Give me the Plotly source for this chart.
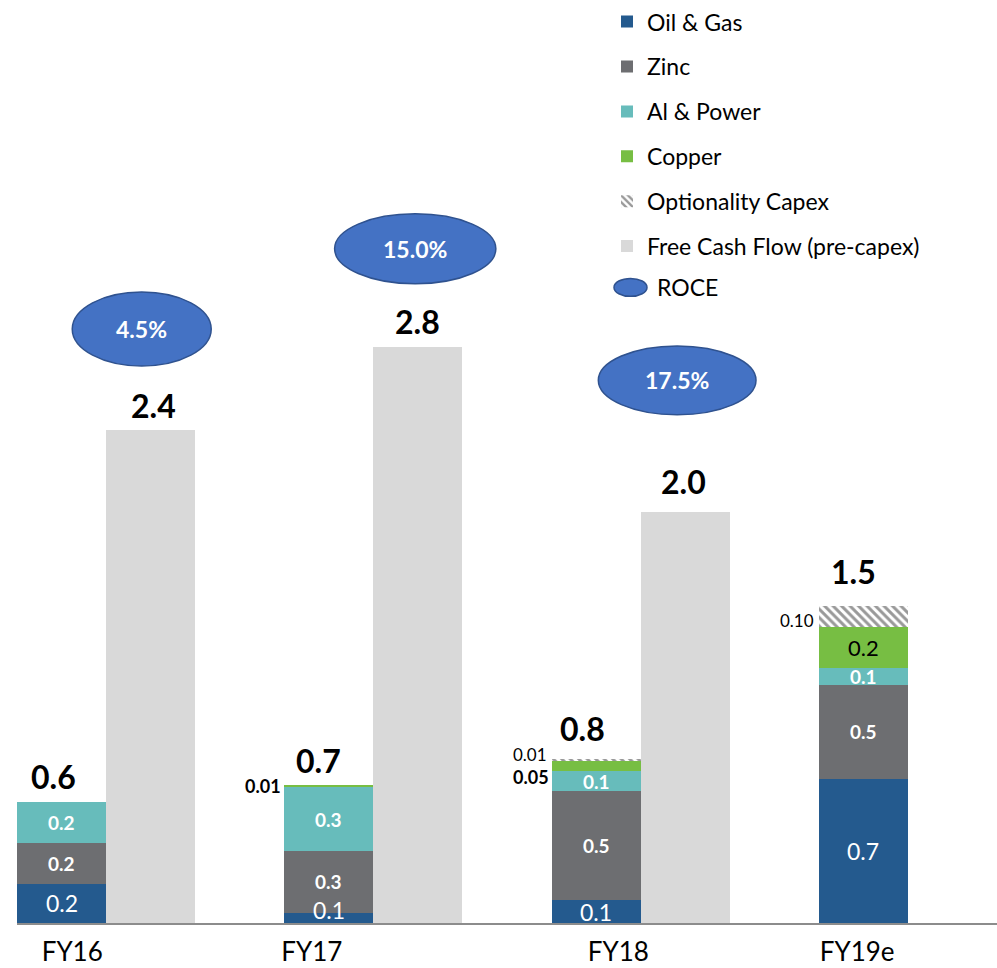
import plotly.graph_objects as go

# ---------------- data ----------------
years = ["FY16", "FY17", "FY18", "FY19e"]
oil_gas = [0.19, 0.05, 0.11, 0.70]
zinc = [0.20, 0.30, 0.53, 0.46]
al_power = [0.20, 0.31, 0.10, 0.08]
copper = [0.0, 0.01, 0.05, 0.20]
optionality = [0.0, 0.0, 0.01, 0.10]
fcf_years = ["FY16", "FY17", "FY18"]
fcf = [2.4, 2.8, 2.0]
roce = [4.5, 15.0, 17.5]

# ---------------- styling / layout ----------------
FONT = "Lato"
C_OIL = "#245A8E"
C_ZINC = "#6D6E71"
C_AL = "#67BCBB"
C_CU = "#77BE43"
C_FCF = "#D9D9D9"
C_ROCE = "#4472C4"
C_ROCE_LINE = "#2F528F"

W, H = 997, 968
ML, MR, MT, MB = 17, 0, 0, 45
PW, PH = W - ML - MR, H - MT - MB
YMAX = PH / 206.0

idx = list(range(len(years)))
x_stack = [3 * i for i in idx]
x_fcf = [3 * years.index(y) + 1 for y in fcf_years]

fig = go.Figure()

series = [
    ("Oil & Gas", oil_gas, C_OIL),
    ("Zinc", zinc, C_ZINC),
    ("Al & Power", al_power, C_AL),
    ("Copper", copper, C_CU),
]
for k, (name, vals, col) in enumerate(series):
    fig.add_trace(go.Bar(
        x=x_stack, y=vals, width=1, name=name, marker=dict(color=col, line_width=0),
        legendgroup=name, legendrank=k + 1, hoverinfo="skip",
    ))
fig.add_trace(go.Bar(
    x=x_stack, y=optionality, width=1, name="Optionality Capex",
    marker=dict(color="white", line_width=0,
                pattern=dict(shape="\\", fgcolor="#333333", bgcolor="white", size=6, solidity=0.5)),
    legendgroup="opt", legendrank=5, hoverinfo="skip",
))
fig.add_trace(go.Bar(
    x=x_fcf, y=fcf, width=1, name="Free Cash Flow (pre-capex)",
    marker=dict(color=C_FCF, line_width=0), legendgroup="fcf", legendrank=6, hoverinfo="skip",
))

ann = []
# segment labels
all_series = [
    ("oil", oil_gas), ("zinc", zinc), ("al", al_power), ("cu", copper), ("opt", optionality)
]
for i in idx:
    base = 0.0
    for key, vals in all_series:
        v = vals[i]
        if v <= 0:
            continue
        mid = base + v / 2
        if key == "oil":
            if v < 0.08:
                ann.append(dict(x=x_stack[i], y=base, yanchor="bottom", yshift=-3, text=f"{v:.1f}",
                                font=dict(family=FONT, size=23, color="white"), showarrow=False))
            else:
                ann.append(dict(x=x_stack[i], y=mid, text=f"{v:.1f}",
                                font=dict(family=FONT, size=23, color="white"), showarrow=False))
        elif key in ("zinc", "al"):
            ann.append(dict(x=x_stack[i], y=mid, text=f"<b>{v:.1f}</b>",
                            font=dict(family=FONT, size=19, color="white"), showarrow=False))
        elif key == "cu":
            if v >= 0.1:
                ann.append(dict(x=x_stack[i], y=mid, text=f"{v:.1f}",
                                font=dict(family=FONT, size=22, color="black"), showarrow=False))
            else:
                ys = -11 if optionality[i] > 0 else 0
                ann.append(dict(x=x_stack[i] - 0.5, y=mid, xanchor="right", xshift=-1, yshift=ys,
                                text=f"<b>{v:.2f}</b>",
                                font=dict(family=FONT, size=18, color="black"), showarrow=False))
        elif key == "opt":
            ys = 5 if copper[i] < 0.1 else -4
            ann.append(dict(x=x_stack[i] - 0.5, y=mid, xanchor="right", xshift=-3, yshift=ys,
                            text=f"{v:.2f}",
                            font=dict(family=FONT, size=17, color="black"), showarrow=False))
        base += v

# stack totals
tot_xshift = [-8, -10, -14, -10]
tot_yshift = [4, 3, 9, 13]
for i in idx:
    tot = oil_gas[i] + zinc[i] + al_power[i] + copper[i] + optionality[i]
    ann.append(dict(x=x_stack[i], y=tot, yanchor="bottom", xshift=tot_xshift[i], yshift=tot_yshift[i],
                    text=f"<b>{tot:.1f}</b>", font=dict(family=FONT, size=32, color="black"),
                    showarrow=False))

# FCF totals
fcf_xshift = [3, 0, -2]
fcf_yshift = [3, 4, 9]
for j, v in enumerate(fcf):
    ann.append(dict(x=x_fcf[j], y=v, yanchor="bottom", xshift=fcf_xshift[j], yshift=fcf_yshift[j],
                    text=f"<b>{v:.1f}</b>", font=dict(family=FONT, size=32, color="black"),
                    showarrow=False))

# ROCE ellipses (placed above the FCF bars)
roce_dx = [-0.10, -0.03, -0.09]
roce_lift = [0.49, 0.48, 0.64]
roce_w = [1.56, 1.81, 1.77]
roce_h = [0.36, 0.34, 0.335]
shapes = []
for j, r in enumerate(roce):
    cx = x_fcf[j] + roce_dx[j]
    cy = fcf[j] + roce_lift[j]
    shapes.append(dict(type="circle", xref="x", yref="y",
                       x0=cx - roce_w[j] / 2, x1=cx + roce_w[j] / 2,
                       y0=cy - roce_h[j] / 2, y1=cy + roce_h[j] / 2,
                       fillcolor=C_ROCE, line=dict(color=C_ROCE_LINE, width=1.5), layer="above"))
    ann.append(dict(x=cx, y=cy, text=f"<b>{r:.1f}%</b>",
                    font=dict(family=FONT, size=23, color="white"), showarrow=False))

# ROCE legend entry (drawn manually)
def px_x(p):
    return (p - ML) / PW
def px_y(p):
    return (H - MB - p) / PH

shapes.append(dict(type="circle", xref="paper", yref="paper",
                   x0=px_x(614), x1=px_x(647), y0=px_y(295), y1=px_y(277),
                   fillcolor=C_ROCE, line=dict(color=C_ROCE_LINE, width=1.5)))
ann.append(dict(xref="paper", yref="paper", x=px_x(655), y=px_y(286),
                xanchor="left", yanchor="middle",
                text="ROCE", font=dict(family=FONT, size=23, color="black"), showarrow=False))

tick_off = [0.12, -0.19, 0.25, -0.07]

fig.update_layout(
    width=W, height=H,
    margin=dict(l=ML, r=MR, t=MT, b=MB, pad=0),
    barmode="stack",
    plot_bgcolor="white", paper_bgcolor="white",
    font=dict(family=FONT, color="black"),
    showlegend=True,
    legend=dict(x=px_x(607), y=1.002, xanchor="left", yanchor="top",
                font=dict(family=FONT, size=23, color="black"),
                traceorder="grouped", tracegroupgap=12, bgcolor="rgba(0,0,0,0)",
                itemclick=False, itemdoubleclick=False),
    xaxis=dict(range=[-0.5, 10.5], tickmode="array",
               tickvals=[x_stack[i] + tick_off[i] for i in idx], ticktext=years,
               tickfont=dict(family=FONT, size=26, color="black"),
               ticklabelstandoff=5,
               showline=True, linecolor="#8C8C8C", linewidth=1.5, showgrid=False,
               zeroline=False, ticks="", automargin=False, fixedrange=True),
    yaxis=dict(range=[0, YMAX], visible=False, showgrid=False, zeroline=False, fixedrange=True),
    shapes=shapes,
    annotations=ann,
)

fig.write_html("out.html", config={"displayModeBar": False},
               post_script="document.body.style.margin='0px';document.body.style.overflow='hidden';")
